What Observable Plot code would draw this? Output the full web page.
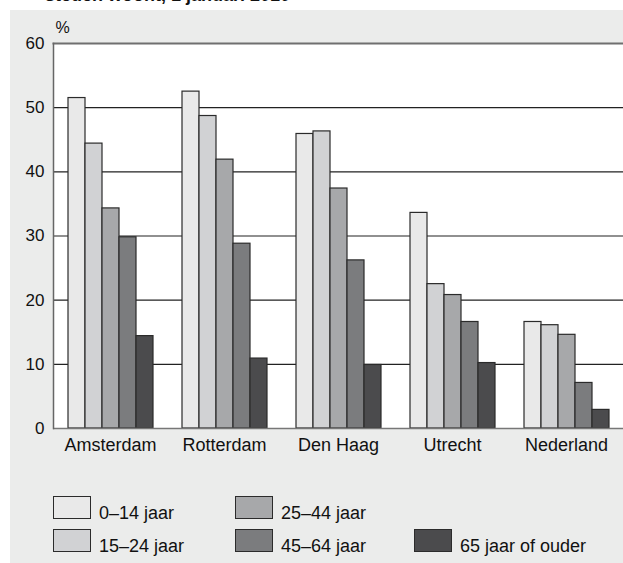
<!DOCTYPE html>
<html>
<head>
<meta charset="utf-8">
<script src="https://cdn.jsdelivr.net/npm/d3@7"></script>
<script src="https://cdn.jsdelivr.net/npm/@observablehq/plot@0.6"></script>
<style>
  html, body { margin: 0; padding: 0; background: #ffffff; }
  body { width: 623px; height: 563px; position: relative; overflow: hidden;
         font-family: "Liberation Sans", Arial, sans-serif; color: #111; }
  #panel { position: absolute; left: 10px; top: 10px; width: 613px; height: 553px; background: #ebeceb; }
  #title { position: absolute; left: 45px; top: -14px; font-size: 18px; line-height: 18px; font-weight: bold; white-space: nowrap; }
  #chart { position: absolute; left: 0; top: 0; }
  #legend { position: absolute; left: 53px; top: 496px; display: grid;
            grid-template-columns: 182px 179px auto; grid-template-rows: 23px 23px;
            row-gap: 10px; grid-auto-flow: column; }
  .item { display: flex; align-items: flex-end; font-size: 18px; line-height: 18px; height: 23px; }
  .sw { width: 36px; height: 21px; border: 1px solid #2b2b2b; margin-right: 8px; flex: none; }
  .lab { position: relative; top: 3px; }
</style>
</head>
<body>
<div id="panel"></div>
<div id="title">steden woont, 1 januari 2010</div>
<div id="chart"></div>
<div id="legend"></div>
<script>
const cities = ["Amsterdam", "Rotterdam", "Den Haag", "Utrecht", "Nederland"];
const ages = ["0–14 jaar", "15–24 jaar", "25–44 jaar", "45–64 jaar", "65 jaar of ouder"];
const v0_14  = [51.5, 52.5, 45.9, 33.6, 16.6];
const v15_24 = [44.4, 48.7, 46.3, 22.5, 16.1];
const v25_44 = [34.3, 41.9, 37.4, 20.8, 14.6];
const v45_64 = [29.8, 28.8, 26.2, 16.6, 7.1];
const v65    = [14.4, 10.9, 9.9, 10.2, 2.9];
const colors = ["#e9e9e9", "#d1d2d4", "#a7a8aa", "#7b7c7e", "#4b4b4d"];
const yTicks = [0, 10, 20, 30, 40, 50, 60];
const yUnit = "%";

const series = [v0_14, v15_24, v25_44, v45_64, v65];
const data = [];
cities.forEach((c, i) => ages.forEach((a, j) => data.push({city: c, age: a, value: series[j][i]})));

const chart = Plot.plot({
  width: 623,
  height: 470,
  marginLeft: 53,
  marginRight: 0,
  marginTop: 43,
  marginBottom: 42,
  style: {background: "transparent", fontFamily: "'Liberation Sans', Arial, sans-serif", color: "#111"},
  fx: {domain: cities, padding: 0, label: null},
  x: {domain: ages, paddingInner: 0, paddingOuter: 0.74, axis: null},
  y: {domain: [0, 60]},
  color: {domain: ages, range: colors},
  marks: [
    Plot.frame({fill: "white", stroke: "none", facet: "super"}),
    Plot.ruleY(yTicks.filter(t => t > 0 && t < 60), {stroke: "#222", strokeWidth: 1.2}),
    Plot.barY(data, {fx: "city", x: "age", y: "value", fill: "age", stroke: "#2b2b2b", strokeWidth: 1.2, inset: 0}),
    Plot.ruleY([0], {stroke: "#777", strokeWidth: 1.5}),
    Plot.frame({anchor: "top", stroke: "#6f6f6f", strokeWidth: 2, facet: "super"}),
    Plot.frame({anchor: "left", stroke: "#666", strokeWidth: 1.5, facet: "super"}),
    Plot.axisY({ticks: yTicks, tickSize: 0, tickPadding: 9, fontSize: 17, label: null}),
    Plot.text([yUnit], {text: d => d, frameAnchor: "top-left", textAnchor: "start", dx: 2, dy: -22, fontSize: 16, facet: "super"}),
    Plot.axisFx({anchor: "bottom", tickSize: 0, tickPadding: 10, fontSize: 18, label: null})
  ]
});
document.getElementById("chart").append(chart);

const legend = document.getElementById("legend");
const order = [0, 1, 2, 3, null, 4];
order.forEach(k => {
  const item = document.createElement("div");
  item.className = "item";
  if (k !== null) {
    const sw = document.createElement("div");
    sw.className = "sw";
    sw.style.background = colors[k];
    const lab = document.createElement("span");
    lab.className = "lab";
    lab.textContent = ages[k];
    item.append(sw, lab);
  }
  legend.append(item);
});
</script>
</body>
</html>
